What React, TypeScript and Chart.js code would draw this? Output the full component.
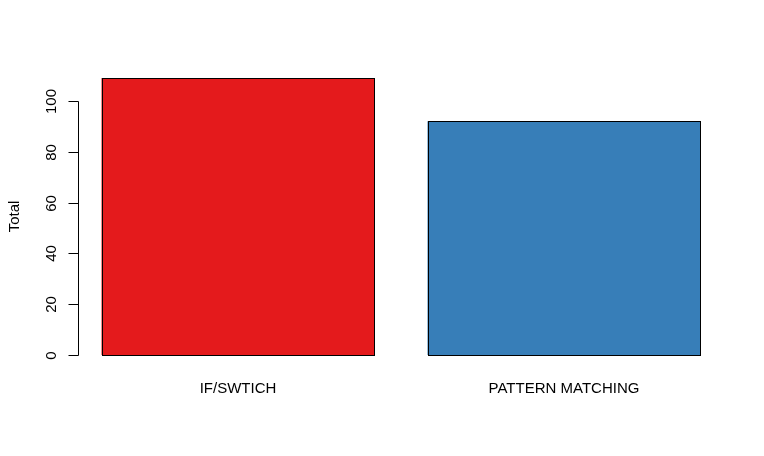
import React, { useEffect, useRef } from "react";
import { Chart, registerables } from "chart.js";

Chart.register(...registerables);

const categories = ["IF/SWTICH", "PATTERN MATCHING"];
const totals = [109, 92];
const barColors = ["#E41A1C", "#377EB8"];
const yTicks = [0, 20, 40, 60, 80, 100];
const yTitle = "Total";

const FONT = "15px 'Liberation Sans', Arial, sans-serif";

const axesPlugin = {
  id: "rAxes",
  afterDatasetsDraw(chart: any) {
    const ctx = chart.ctx;
    const meta = chart.getDatasetMeta(0);
    ctx.save();
    ctx.strokeStyle = "#000";
    ctx.lineWidth = 1;
    meta.data.forEach((bar: any) => {
      const l = Math.round(bar.x - bar.width / 2) + 0.5;
      const r = Math.round(bar.x + bar.width / 2) - 0.5;
      const t = Math.round(bar.y) + 0.5;
      const b = Math.round(bar.base) + 0.5;
      ctx.strokeRect(l, t, r - l, b - t);
    });
    ctx.restore();
  },
  afterDraw(chart: any) {
    const ctx = chart.ctx;
    const y = chart.scales.y;
    const x = chart.scales.x;
    const area = chart.chartArea;
    ctx.save();
    ctx.strokeStyle = "#000";
    ctx.lineWidth = 1;
    ctx.fillStyle = "#000";
    ctx.font = FONT;
    const axX = 78.5;
    const y0 = Math.round(y.getPixelForValue(yTicks[0])) + 0.5;
    const y1 = Math.round(y.getPixelForValue(yTicks[yTicks.length - 1])) + 0.5;
    ctx.beginPath();
    ctx.moveTo(axX, y0);
    ctx.lineTo(axX, y1);
    ctx.stroke();
    yTicks.forEach((t) => {
      const py = Math.round(y.getPixelForValue(t)) + 0.5;
      ctx.beginPath();
      ctx.moveTo(axX, py);
      ctx.lineTo(axX - 10, py);
      ctx.stroke();
      ctx.save();
      ctx.translate(56, py);
      ctx.rotate(-Math.PI / 2);
      ctx.textAlign = "center";
      ctx.textBaseline = "alphabetic";
      ctx.fillText(String(t), 0, 0);
      ctx.restore();
    });
    ctx.save();
    ctx.translate(18.5, (area.top + area.bottom) / 2);
    ctx.rotate(-Math.PI / 2);
    ctx.textAlign = "center";
    ctx.textBaseline = "alphabetic";
    ctx.fillText(yTitle, 0, 0);
    ctx.restore();
    categories.forEach((c, i) => {
      const px = x.getPixelForValue(i);
      ctx.textAlign = "center";
      ctx.textBaseline = "alphabetic";
      ctx.fillText(c, px, 393);
    });
    ctx.restore();
  },
};

export default function App() {
  const ref = useRef<HTMLCanvasElement>(null);
  useEffect(() => {
    document.body.style.margin = "0";
    const chart = new Chart(ref.current!, {
      type: "bar",
      data: {
        labels: categories,
        datasets: [
          {
            data: totals,
            backgroundColor: barColors,
            borderWidth: 0,
            categoryPercentage: 273 / 326,
            barPercentage: 1,
          },
        ],
      },
      options: {
        animation: false,
        responsive: false,
        layout: { padding: { left: 75, right: 37, top: 67, bottom: 90 } },
        plugins: { legend: { display: false }, tooltip: { enabled: false } },
        scales: {
          x: { type: "category", display: false, offset: true },
          y: { type: "linear", display: false, min: -4.36, max: 113.36 },
        },
      },
      plugins: [axesPlugin],
    });
    return () => chart.destroy();
  }, []);
  return (
    <div style={{ position: "absolute", left: 0, top: 0, width: 764, height: 456, background: "#fff" }}>
      <canvas ref={ref} width={764} height={456} style={{ width: 764, height: 456 }} />
    </div>
  );
}
